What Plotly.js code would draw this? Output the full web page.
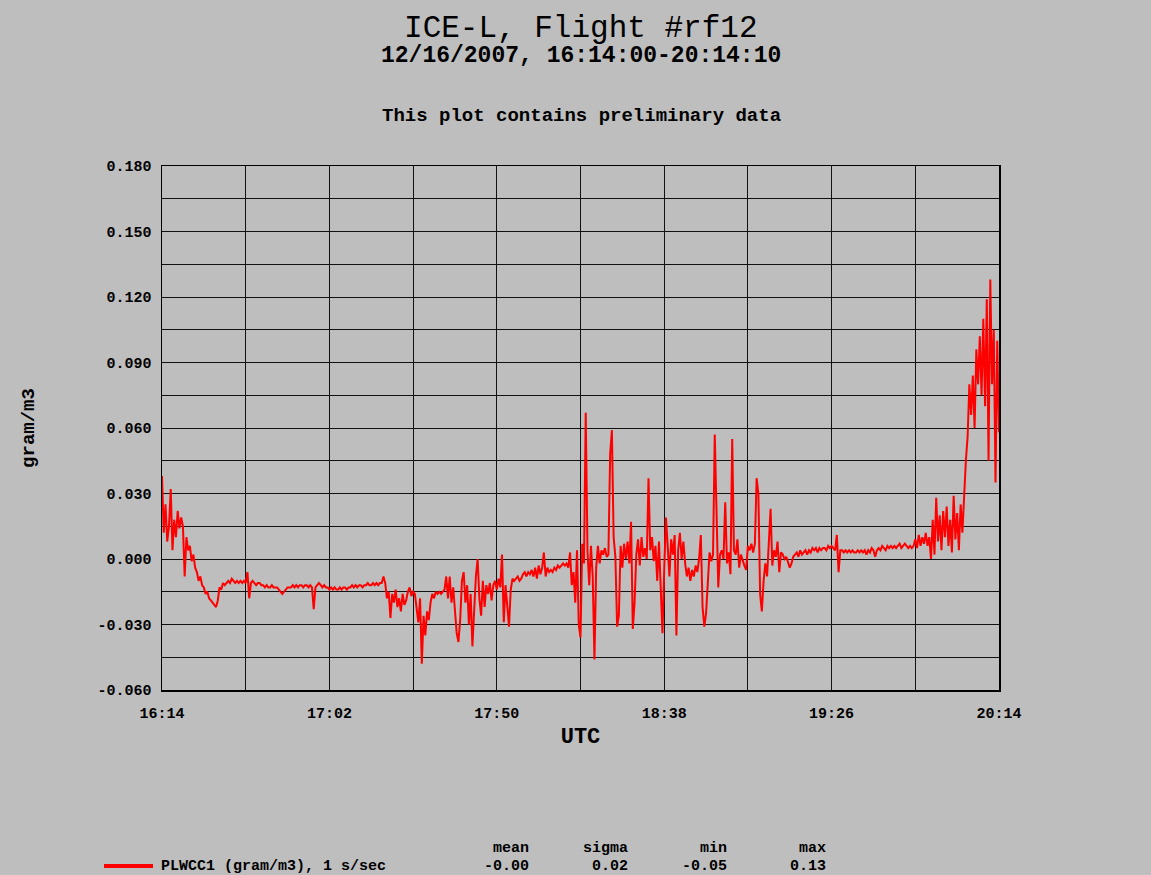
<!DOCTYPE html>
<html>
<head>
<meta charset="utf-8">
<script src="https://cdn.plot.ly/plotly-3.0.1.min.js"></script>
<style>
  html, body { margin: 0; padding: 0; background: #BEBEBE; }
  #chart { width: 1151px; height: 875px; }
</style>
</head>
<body>
<div id="chart"></div>
<script>
// PLWCC1 liquid water content (one value every 0.5 min from 16:14)
const sampleStepMinutes = 0.5;
const plwcc1 = [
  0.038, 0.012, 0.025, 0.008, 0.015, 0.032, 0.004, 0.018, 0.010, 0.022,
  0.014, 0.019, 0.015, -0.008, 0.010, 0.004, 0.006, -0.001, 0.002, -0.004,
  -0.006, -0.010, -0.008, -0.012, -0.013, -0.016, -0.015, -0.018, -0.019, -0.020,
  -0.021, -0.022, -0.019, -0.013, -0.014, -0.011, -0.012, -0.011, -0.010, -0.011,
  -0.009, -0.010, -0.011, -0.010, -0.011, -0.010, -0.011, -0.010, -0.011, -0.006,
  -0.018, -0.011, -0.010, -0.011, -0.012, -0.011, -0.011, -0.012, -0.012, -0.013,
  -0.012, -0.013, -0.013, -0.012, -0.013, -0.013, -0.013, -0.014, -0.015, -0.016,
  -0.015, -0.014, -0.013, -0.013, -0.013, -0.012, -0.013, -0.012, -0.013, -0.012,
  -0.012, -0.013, -0.012, -0.012, -0.013, -0.012, -0.013, -0.023, -0.013, -0.012,
  -0.011, -0.012, -0.013, -0.012, -0.013, -0.013, -0.014, -0.013, -0.014, -0.013,
  -0.014, -0.014, -0.013, -0.014, -0.013, -0.013, -0.014, -0.013, -0.013, -0.012,
  -0.013, -0.012, -0.013, -0.012, -0.012, -0.013, -0.012, -0.012, -0.011, -0.012,
  -0.012, -0.011, -0.012, -0.011, -0.012, -0.011, -0.011, -0.008, -0.011, -0.018,
  -0.015, -0.027, -0.016, -0.020, -0.014, -0.022, -0.018, -0.024, -0.016, -0.021,
  -0.019, -0.015, -0.013, -0.017, -0.015, -0.016, -0.022, -0.029, -0.018, -0.048,
  -0.026, -0.035, -0.024, -0.028, -0.020, -0.016, -0.018, -0.015, -0.016, -0.015,
  -0.016, -0.015, -0.014, -0.008, -0.018, -0.008, -0.020, -0.013, -0.025, -0.034,
  -0.038, -0.028, -0.010, -0.006, -0.020, -0.012, -0.030, -0.016, -0.040, -0.020,
  -0.008, 0.000, -0.018, -0.026, -0.010, -0.022, -0.012, -0.016, -0.011, -0.019,
  -0.012, -0.010, -0.014, -0.009, -0.013, 0.002, -0.029, -0.012, -0.022, -0.031,
  -0.014, -0.009, -0.010, -0.009, -0.008, -0.010, -0.009, -0.007, -0.006, -0.008,
  -0.006, -0.007, -0.005, -0.008, -0.004, -0.009, -0.003, -0.007, -0.004, 0.003,
  -0.008, -0.004, -0.006, -0.005, -0.006, -0.004, -0.005, -0.003, -0.004, -0.003,
  -0.002, -0.003, -0.002, -0.004, 0.003, -0.012, -0.006, -0.020, 0.004, -0.030,
  -0.036, 0.007, -0.002, 0.067, 0.004, -0.012, 0.006, -0.008, -0.046, -0.004,
  0.006, -0.002, 0.004, 0.002, 0.005, 0.001, 0.002, 0.048, 0.059, 0.010,
  0.001, -0.031, -0.026, 0.006, -0.004, 0.007, 0.000, 0.008, -0.002, 0.017,
  -0.032, -0.020, 0.002, 0.009, -0.003, 0.010, 0.001, 0.005, 0.000, 0.037,
  0.004, 0.010, -0.001, 0.006, -0.010, 0.008, -0.012, -0.034, -0.005, 0.019,
  0.006, -0.008, 0.009, 0.002, 0.011, -0.035, 0.004, 0.012, 0.000, 0.008,
  -0.002, -0.008, -0.004, -0.010, -0.005, -0.008, -0.003, -0.006, 0.000, 0.011,
  -0.022, -0.031, -0.025, -0.012, 0.003, -0.001, 0.002, 0.057, 0.016, -0.013,
  0.002, 0.004, 0.000, 0.026, -0.002, 0.003, -0.007, 0.055, 0.004, 0.002,
  0.009, -0.004, 0.002, -0.001, -0.003, -0.005, 0.006, 0.004, 0.007, 0.003,
  0.007, 0.037, 0.030, -0.016, -0.024, -0.010, -0.002, -0.008, 0.006, 0.023,
  -0.003, 0.004, 0.001, 0.008, -0.006, 0.003, 0.002, 0.000, 0.001, -0.002,
  -0.004, -0.002, 0.001, 0.002, 0.003, 0.001, 0.004, 0.002, 0.003, 0.004,
  0.002, 0.004, 0.003, 0.005, 0.004, 0.005, 0.003, 0.005, 0.004, 0.005,
  0.005, 0.004, 0.006, 0.005, 0.006, 0.005, 0.004, 0.011, -0.006, 0.004,
  0.004, 0.003, 0.004, 0.003, 0.004, 0.003, 0.004, 0.003, 0.003, 0.004,
  0.003, 0.004, 0.003, 0.004, 0.002, 0.004, 0.003, 0.005, 0.004, 0.001,
  0.004, 0.005, 0.004, 0.006, 0.005, 0.004, 0.006, 0.005, 0.006, 0.005,
  0.006, 0.005, 0.006, 0.007, 0.005, 0.006, 0.007, 0.006, 0.005, 0.006,
  0.005, 0.006, 0.009, 0.005, 0.011, 0.006, 0.010, 0.007, 0.012, 0.006,
  0.010, 0.000, 0.018, 0.002, 0.028, 0.008, 0.020, 0.004, 0.022, 0.010,
  0.024, 0.006, 0.018, 0.003, 0.029, 0.009, 0.021, 0.004, 0.025, 0.012,
  0.030, 0.045, 0.056, 0.080, 0.066, 0.084, 0.060, 0.096, 0.080, 0.102,
  0.075, 0.110, 0.070, 0.119, 0.045, 0.128, 0.080, 0.105, 0.035, 0.100, 0.058
];

const xTickVals = [0, 24, 48, 72, 96, 120, 144, 168, 192, 216, 240];
const xTickText = ['16:14', '', '17:02', '', '17:50', '', '18:38', '', '19:26', '', '20:14'];
const yTickVals = [-0.06, -0.045, -0.03, -0.015, 0, 0.015, 0.03, 0.045, 0.06, 0.075, 0.09, 0.105, 0.12, 0.135, 0.15, 0.165, 0.18];
const yTickText = ['-0.060', '', '-0.030', '', '0.000', '', '0.030', '', '0.060', '', '0.090', '', '0.120', '', '0.150', '', '0.180'];

const titleText = 'ICE-L, Flight #rf12';
const subtitleText = '12/16/2007, 16:14:00-20:14:10';
const noteText = 'This plot contains preliminary data';
const seriesName = 'PLWCC1 (gram/m3), 1 s/sec';
const statNames = ['mean', 'sigma', 'min', 'max'];
const statValues = ['-0.00', '0.02', '-0.05', '0.13'];

const minutes = plwcc1.map((_, i) => i * sampleStepMinutes);

const FONT = 'Liberation Mono, DejaVu Sans Mono, monospace';
const BG = '#BEBEBE';
const RED = '#FF0000';

const trace = {
  x: minutes,
  y: plwcc1,
  type: 'scatter',
  mode: 'lines',
  name: seriesName,
  line: { color: RED, width: 2 },
  showlegend: false
};

const plotLeft = 162, plotRight = 999, plotTop = 166, plotBottom = 690;
const W = 1151, H = 875;
const pw = plotRight - plotLeft, ph = plotBottom - plotTop;
const px = v => (v - plotLeft) / pw;
const py = v => (plotBottom - v) / ph;

const boldFont = (size) => ({ family: FONT, size: size, color: '#000', weight: 'bold' });

const annotations = [
  { text: subtitleText, xref: 'paper', yref: 'paper', x: px(581), y: py(56), xanchor: 'center', yanchor: 'middle',
    showarrow: false, font: boldFont(23) },
  { text: noteText, xref: 'paper', yref: 'paper', x: px(581), y: py(116), xanchor: 'center', yanchor: 'middle',
    showarrow: false, font: boldFont(19) },
  // legend entry text (the sample line is a shape below)
  { text: seriesName, xref: 'paper', yref: 'paper', x: px(159), y: py(866), xanchor: 'left', yanchor: 'middle',
    showarrow: false, font: boldFont(15) }
];
const statRight = [529, 628, 727, 826];
statNames.forEach((n, i) => {
  annotations.push({ text: n, xref: 'paper', yref: 'paper', x: px(statRight[i] + 2), y: py(848), xanchor: 'right', yanchor: 'middle',
    showarrow: false, font: boldFont(15) });
  annotations.push({ text: statValues[i], xref: 'paper', yref: 'paper', x: px(statRight[i] + 2), y: py(866), xanchor: 'right', yanchor: 'middle',
    showarrow: false, font: boldFont(15) });
});

const shapes = [
  { type: 'line', xref: 'paper', yref: 'paper', x0: px(104), x1: px(153), y0: py(866), y1: py(866),
    line: { color: RED, width: 4 } }
];

const layout = {
  width: W, height: H,
  paper_bgcolor: BG, plot_bgcolor: BG,
  margin: { l: plotLeft, r: W - plotRight, t: plotTop, b: H - plotBottom, pad: 0 },
  title: { text: titleText, x: 0.5046, xref: 'container', xanchor: 'center', y: 1 - 26 / H, yref: 'container', yanchor: 'middle',
    font: { family: FONT, size: 31, color: '#000' } },
  showlegend: false,
  xaxis: {
    range: [0, 240], tickmode: 'array', tickvals: xTickVals, ticktext: xTickText,
    showgrid: true, gridcolor: '#111', gridwidth: 1, zeroline: false,
    showline: true, mirror: true, linecolor: '#000', linewidth: 1.5,
    ticks: '', ticklabelstandoff: 8,
    tickfont: boldFont(15),
    title: { text: 'UTC', standoff: 6, font: boldFont(22) }
  },
  yaxis: {
    range: [-0.06, 0.18], tickmode: 'array', tickvals: yTickVals, ticktext: yTickText,
    showgrid: true, gridcolor: '#111', gridwidth: 1, zeroline: false,
    showline: true, mirror: true, linecolor: '#000', linewidth: 1.5,
    ticks: '', ticklabelstandoff: 6,
    tickfont: boldFont(15),
    title: { text: 'gram/m3', standoff: 58, font: boldFont(19) }
  },
  annotations: annotations,
  shapes: shapes
};

Plotly.newPlot('chart', [trace], layout, { displayModeBar: false, staticPlot: true });
</script>
</body>
</html>
